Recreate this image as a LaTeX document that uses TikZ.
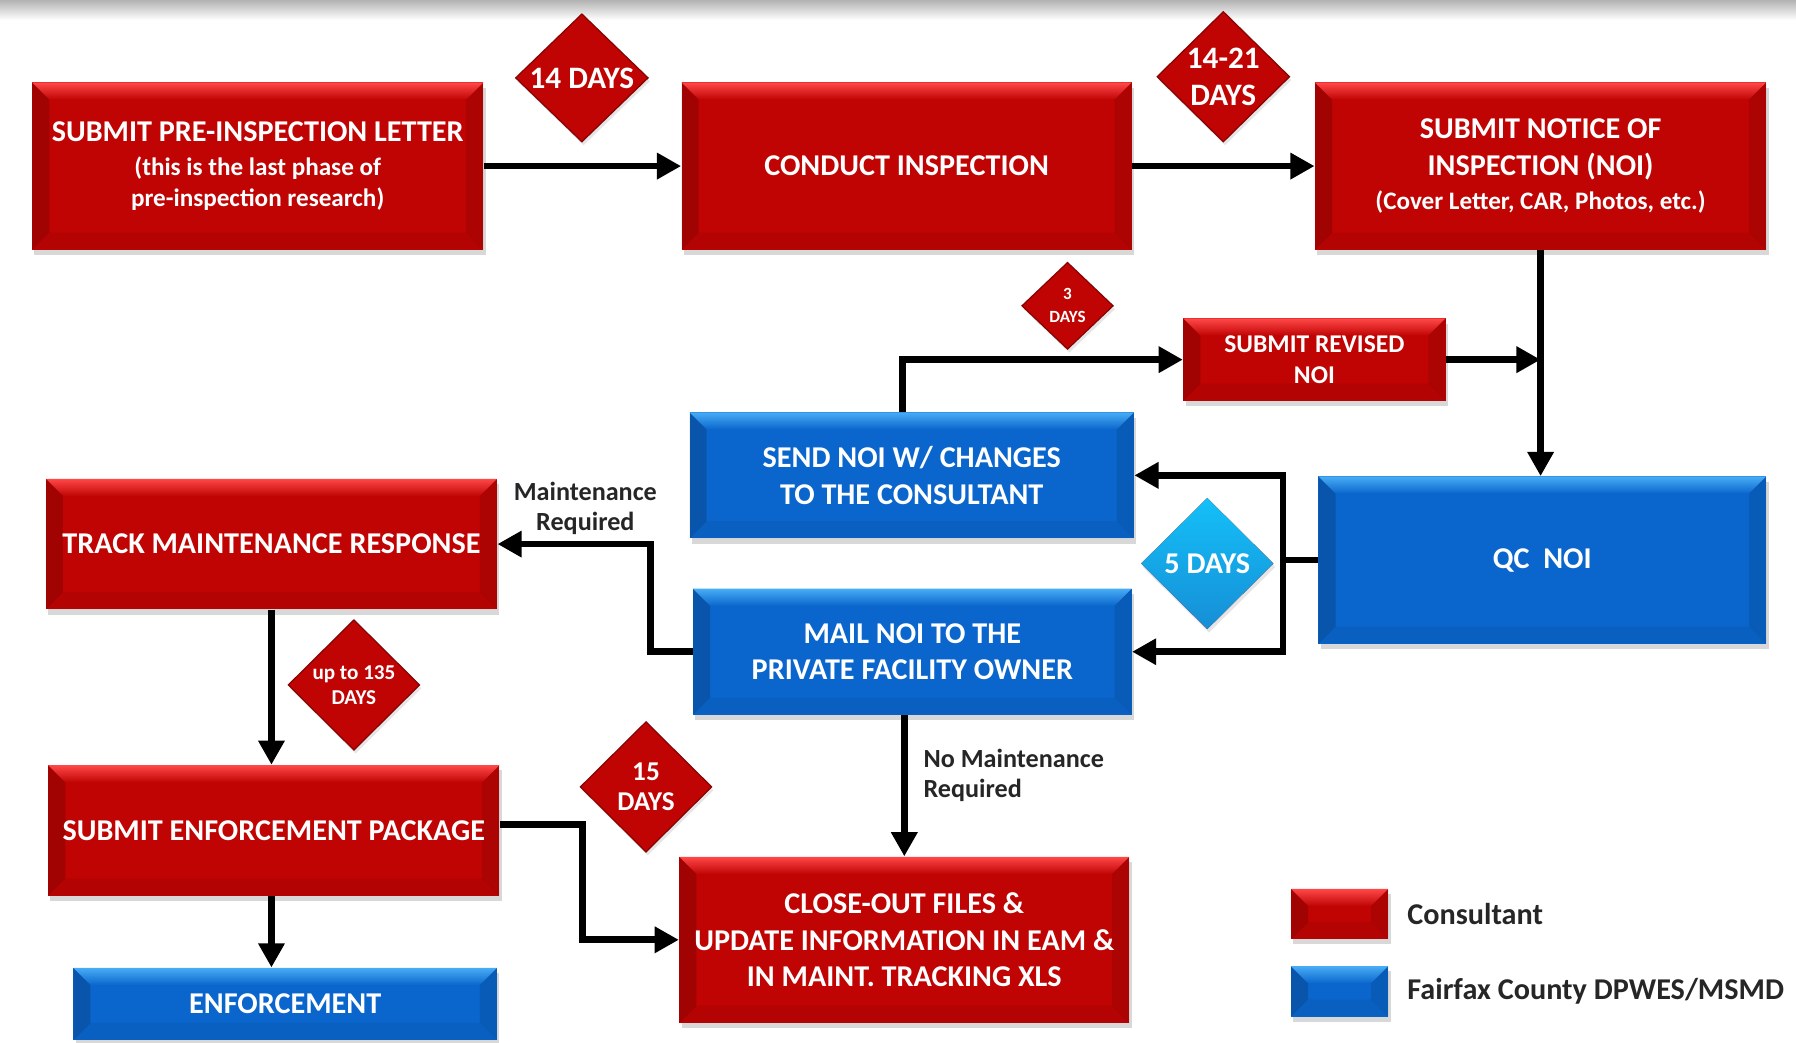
\documentclass[tikz,border=0pt]{standalone}
\usepackage{fontspec}
\setmainfont{Carlito}
\usetikzlibrary{calc}
\usetikzlibrary{positioning}
\usetikzlibrary{arrows.meta}
\usetikzlibrary{shapes.geometric}
\usetikzlibrary{shadows}
\tikzset{>={Triangle[length=12pt,width=12.5pt]}}

\definecolor{noired}{RGB}{192,4,4}
\definecolor{noiredtop}{RGB}{255,72,72}
\definecolor{noiblue}{RGB}{10,102,204}
\definecolor{noibluetop}{RGB}{72,172,245}
\definecolor{daycyantop}{RGB}{20,192,248}
\definecolor{daycyanbot}{RGB}{22,142,214}
\definecolor{notegray}{RGB}{38,38,38}

\newcommand{\boxfont}{\fontsize{15}{18.2}\selectfont\bfseries}
\newcommand{\subfont}{\fontsize{12.5}{14}\selectfont\bfseries}

\tikzset{
	bevel/.style 2 args={path picture={
		\coordinate (bsw) at (path picture bounding box.south west);
		\coordinate (bne) at (path picture bounding box.north east);
		\coordinate (bnw) at (bsw |- bne);
		\coordinate (bse) at (bne |- bsw);
		\shade[top color=#1, bottom color=#2] (bnw) -- (bne) -- ([shift={(-0.3,-0.3)}]bne) -- ([shift={(0.3,-0.3)}]bnw) -- cycle;
		\fill[black, opacity=0.16] (bsw) -- (bnw) -- ([shift={(0.3,-0.3)}]bnw) -- ([shift={(0.3,0.3)}]bsw) -- cycle;
		\fill[black, opacity=0.10] (bse) -- (bne) -- ([shift={(-0.3,-0.3)}]bne) -- ([shift={(-0.3,0.3)}]bse) -- cycle;
		\fill[black, opacity=0.06] (bsw) -- (bse) -- ([shift={(-0.3,0.3)}]bse) -- ([shift={(0.3,0.3)}]bsw) -- cycle;
	}},
	stage/.style={rectangle, inner sep=2pt, align=center, text=white, font=\boxfont,
		drop shadow={opacity=0.3, shadow xshift=0.4mm, shadow yshift=-0.9mm}},
	consult/.style={stage, fill=noired, bevel={noiredtop}{noired}},
	county/.style={stage, fill=noiblue, bevel={noibluetop}{noiblue}},
	days/.style={diamond, aspect=1, inner sep=0pt, fill=noired, draw=noired!70!black, line width=0.6pt,
		text=white, align=center, drop shadow={opacity=0.2, shadow xshift=0.3mm, shadow yshift=-0.6mm}},
	note/.style={align=center, inner sep=0pt, text=notegray, font=\fontsize{13}{15}\selectfont\bfseries},
	keytext/.style={inner sep=0pt, text=black!85, font=\fontsize{15}{18}\selectfont\bfseries},
	flow/.style={line width=3.3pt, ->},
}

\begin{document}
\begin{tikzpicture}
	\useasboundingbox (0,0) rectangle (31.36,18.2);
	\fill[white] (0,0) rectangle (31.36,18.2);
	\shade[top color=black!30, bottom color=white] (0,17.85) rectangle (31.36,18.2);

	\node[consult, minimum width=7.88cm, minimum height=2.92cm] (pre) at (4.50,15.30)
		{SUBMIT PRE-INSPECTION LETTER\\[-1.5pt]{\subfont (this is the last phase of}\\[-2.6pt]{\subfont pre-inspection research)}};
	\node[consult, minimum width=7.86cm, minimum height=2.92cm] (conduct) at (15.83,15.30) {CONDUCT INSPECTION};
	\node[consult, minimum width=7.88cm, minimum height=2.92cm] (noi) at (26.90,15.30)
		{SUBMIT NOTICE OF\\INSPECTION (NOI)\\[-1pt]{\subfont (Cover Letter, CAR, Photos, etc.)}};
	\node[consult, minimum width=4.58cm, minimum height=1.44cm, font=\fontsize{12.7}{15.3}\selectfont\bfseries] (revised) at (22.95,11.92) {SUBMIT REVISED\\NOI};
	\node[county, minimum width=7.76cm, minimum height=2.20cm] (send) at (15.92,9.90) {SEND NOI W/ CHANGES\\TO THE CONSULTANT};
	\node[county, minimum width=7.82cm, minimum height=2.92cm] (qc) at (26.93,8.42) {QC\ \ NOI};
	\node[consult, minimum width=7.88cm, minimum height=2.28cm] (track) at (4.74,8.70) {TRACK MAINTENANCE RESPONSE};
	\node[county, minimum width=7.66cm, minimum height=2.20cm] (mail) at (15.93,6.82) {MAIL NOI TO THE\\PRIVATE FACILITY OWNER};
	\node[consult, minimum width=7.88cm, minimum height=2.28cm] (pkg) at (4.78,3.70) {SUBMIT ENFORCEMENT PACKAGE};
	\node[consult, minimum width=7.86cm, minimum height=2.90cm] (closeout) at (15.79,1.79)
		{CLOSE-OUT FILES \&\\UPDATE INFORMATION IN EAM \&\\IN MAINT. TRACKING XLS};
	\node[county, minimum width=7.40cm, minimum height=1.26cm] (enforce) at (4.98,0.67) {ENFORCEMENT};

	\node[days, minimum width=2.32cm, minimum height=2.24cm, font=\fontsize{15.5}{18}\selectfont\bfseries] (d14) at (10.16,16.84) {14 DAYS};
	\node[days, minimum width=2.32cm, minimum height=2.28cm, font=\fontsize{15.5}{18.2}\selectfont\bfseries] (d1421) at (21.36,16.86) {14-21\\DAYS};
	\node[days, minimum width=1.60cm, minimum height=1.52cm, font=\fontsize{8.5}{11.5}\selectfont\bfseries] (d3) at (18.64,12.86) {3\\DAYS};
	\node[days, minimum width=2.32cm, minimum height=2.30cm, font=\fontsize{15}{18}\selectfont\bfseries, draw=none,
		top color=daycyantop, bottom color=daycyanbot] (d5) at (21.08,8.36) {5 DAYS};
	\node[days, minimum width=2.30cm, minimum height=2.28cm, font=\fontsize{10.5}{12.5}\selectfont\bfseries] (d135) at (6.18,6.24) {up to 135\\DAYS};
	\node[days, minimum width=2.30cm, minimum height=2.28cm, font=\fontsize{13.5}{14.8}\selectfont\bfseries] (d15) at (11.28,4.46) {15\\DAYS};

	\draw[flow] (pre.east) -- (conduct.west);
	\draw[flow] (conduct.east) -- (noi.west);
	\draw[flow] (noi.south) -- (noi.south |- qc.north);
	\draw[flow] (revised.east) -- (revised.east -| noi.south);
	\draw[flow] ([xshift=-0.16cm]send.north) |- (revised.west);

	\coordinate (qcsplit) at (22.40,8.42);
	\draw[flow] (qc.west) -- (qcsplit) |- (send.east);
	\draw[flow] (qcsplit) |- (mail.east);

	\draw[flow] (mail.west) -- ++(-0.74,0) |- (track.east);
	\node[note] (mreq) at (10.22,9.32) {Maintenance\\Required};

	\draw[flow] (closeout.north |- mail.south) -- (closeout.north);
	\node[note, align=left, anchor=west] (nomaint) at (16.12,4.66) {No Maintenance\\Required};

	\draw[flow] (track.south) -- (track.south |- pkg.north);
	\draw[flow] (pkg.south -| track.south) -- (track.south |- enforce.north);
	\draw[flow] ([yshift=0.1cm]pkg.east) -- ++(1.44,0) |- (closeout.west);

	\node[consult, minimum width=1.70cm, minimum height=0.88cm] (keyred) at (23.39,2.24) {};
	\node[county, minimum width=1.70cm, minimum height=0.88cm] (keyblue) at (23.39,0.89) {};
	\node[keytext, right=0.32cm of keyred] (keyredtext) {Consultant};
	\node[keytext, right=0.32cm of keyblue] (keybluetext) {Fairfax County DPWES/MSMD};
\end{tikzpicture}
\end{document}
